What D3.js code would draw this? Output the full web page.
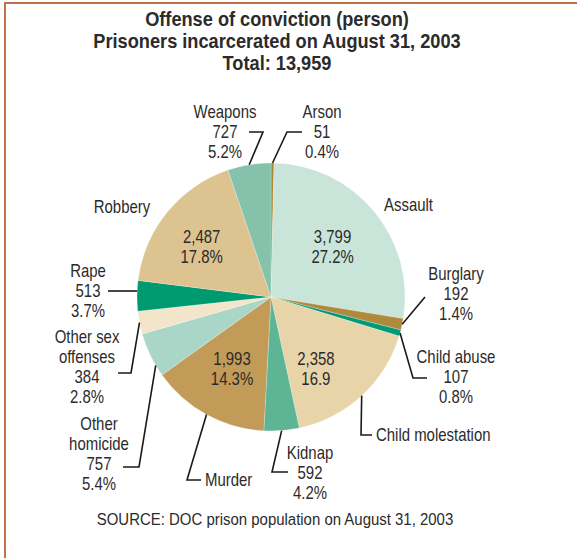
<!DOCTYPE html>
<html>
<head>
<meta charset="utf-8">
<script src="https://cdn.jsdelivr.net/npm/d3@7"></script>
<style>
  html, body { margin: 0; padding: 0; background: #fff; }
  svg { display: block; }
  text { font-family: "Liberation Sans", Arial, sans-serif; fill: #2b2b2b; }
</style>
</head>
<body>
<script>
// Offense categories, clockwise from 12 o'clock
const categories = ["Arson", "Assault", "Burglary", "Child abuse", "Child molestation", "Kidnap",
  "Murder", "Other homicide", "Other sex offenses", "Rape", "Robbery", "Weapons"];
const counts = [51, 3799, 192, 107, 2358, 592, 1993, 757, 384, 513, 2487, 727];
const countLabels = ["51", "3,799", "192", "107", "2,358", "592", "1,993", "757", "384", "513", "2,487", "727"];
const percentLabels = ["0.4%", "27.2%", "1.4%", "0.8%", "16.9", "4.2%", "14.3%", "5.4%", "2.8%", "3.7%", "17.8%", "5.2%"];
const sliceColors = ["#b3862f", "#c9e4d9", "#b08a3c", "#009a78", "#e8d4a9", "#5eb595",
  "#c19b57", "#a9d6c6", "#f3e5ca", "#009a70", "#dcc390", "#86c2ab"];
const titleLines = ["Offense of conviction (person)", "Prisoners incarcerated on August 31, 2003", "Total: 13,959"];
const sourceNote = "SOURCE: DOC prison population on August 31, 2003";

const W = 577, H = 558;
const cx = 271, cy = 297, R = 134;
const lineH = 20;
const labelSize = 18, labelSqueeze = 0.83;

const svg = d3.select("body").append("svg").attr("width", W).attr("height", H);

// condensed text: a regular face squeezed horizontally about its anchor point
function label(x, y, str, opt = {}) {
  return svg.append("text")
    .attr("transform", `translate(${x},${y}) scale(${opt.sx || labelSqueeze},1)`)
    .attr("text-anchor", opt.anchor || "middle")
    .style("font-size", (opt.size || labelSize) + "px")
    .style("font-weight", opt.weight || "normal")
    .text(str);
}

// frame rule along the top and left edges
svg.append("path")
  .attr("d", `M${W},3 H5 V${H}`)
  .attr("fill", "none").attr("stroke", "#c0724a").attr("stroke-width", 2);

// title
titleLines.forEach((s, i) => label(277, 26 + i * 22, s, { size: 20, weight: "bold", sx: 0.91 }));

const data = categories.map((c, i) => ({ name: c, value: counts[i], count: countLabels[i], pct: percentLabels[i], color: sliceColors[i] }));

const pie = d3.pie().value(d => d.value).sort(null).startAngle(0).endAngle(2 * Math.PI);
const arcs = pie(data);
const arc = d3.arc().innerRadius(0).outerRadius(R);

const g = svg.append("g").attr("transform", `translate(${cx},${cy})`);
g.selectAll("path").data(arcs).join("path")
  .attr("d", arc)
  .attr("fill", d => d.data.color)
  .attr("stroke", "#ffffff").attr("stroke-width", 0.4).attr("stroke-opacity", 0.6);

// point on the rim at a given fraction through a slice
function rimPoint(d, f) {
  const a = d.startAngle + (d.endAngle - d.startAngle) * f;
  return [cx + R * Math.sin(a), cy - R * Math.cos(a)];
}

// labels placed inside the larger slices
const insideLayout = {
  "Assault": { rho: 80, da: 0 },
  "Child molestation": { rho: 84, da: 0.18 },
  "Murder": { rho: 81, da: 0 },
  "Robbery": { rho: 86, da: -0.05 }
};
arcs.filter(d => insideLayout[d.data.name]).forEach(d => {
  const L = insideLayout[d.data.name];
  const a = (d.startAngle + d.endAngle) / 2 + L.da;
  const x = cx + L.rho * Math.sin(a), y = cy - L.rho * Math.cos(a);
  label(x, y - 3, d.data.count);
  label(x, y + 17, d.data.pct);
});

// labels placed outside, with leader lines from the text to the rim
const outsideLayout = {
  "Weapons": { x: 225, y: 118, anchor: "middle", rows: ["name", "count", "pct"], leader: [[249, 132], [263, 132]] },
  "Arson": { x: 322, y: 118, anchor: "middle", rows: ["name", "count", "pct"], leader: [[302, 132], [287, 132]] },
  "Assault": { x: 384, y: 211, anchor: "start", rows: ["name"] },
  "Robbery": { x: 122, y: 213, anchor: "middle", rows: ["name"] },
  "Burglary": { x: 456, y: 280, anchor: "middle", rows: ["name", "count", "pct"], leader: [[425, 297]] },
  "Child abuse": { x: 456, y: 363, anchor: "middle", rows: ["name", "count", "pct"], leader: [[427, 378], [413, 378]] },
  "Child molestation": { x: 376, y: 441, anchor: "start", rows: ["name"], leader: [[372, 435], [361, 435]] },
  "Kidnap": { x: 310, y: 459, anchor: "middle", rows: ["name", "count", "pct"], leader: [[288, 472], [272, 472]] },
  "Murder": { x: 205, y: 486, anchor: "start", rows: ["name"], leader: [[201, 480], [187, 480]] },
  "Rape": { x: 88, y: 277, anchor: "middle", rows: ["name", "count", "pct"], leader: [[108, 291]], level: true },
  "Other sex offenses": { x: 87, y: 343, anchor: "middle", rows: ["Other sex", "offenses", "count", "pct"], leader: [[118, 373], [131, 373]] },
  "Other homicide": { x: 99, y: 430, anchor: "middle", rows: ["Other", "homicide", "count", "pct"], leader: [[123, 467], [139, 467]], at: 0.25 }
};

arcs.forEach(d => {
  const L = outsideLayout[d.data.name];
  if (!L) return;
  L.rows.forEach((r, i) => {
    const s = r === "name" ? d.data.name : r === "count" ? d.data.count : r === "pct" ? d.data.pct : r;
    label(L.x, L.y + i * lineH, s, { anchor: L.anchor });
  });
  if (L.leader) {
    let end;
    if (L.level) {
      const yy = L.leader[L.leader.length - 1][1];
      end = [cx - Math.sqrt(R * R - (yy - cy) * (yy - cy)), yy];
    } else {
      end = rimPoint(d, L.at != null ? L.at : 0.5);
    }
    svg.append("path")
      .attr("d", d3.line()(L.leader.concat([end])))
      .attr("fill", "none").attr("stroke", "#1a1a1a").attr("stroke-width", 1.6);
  }
});

// source note
label(275, 525, sourceNote, { size: 17, sx: 0.88 });
</script>
</body>
</html>
